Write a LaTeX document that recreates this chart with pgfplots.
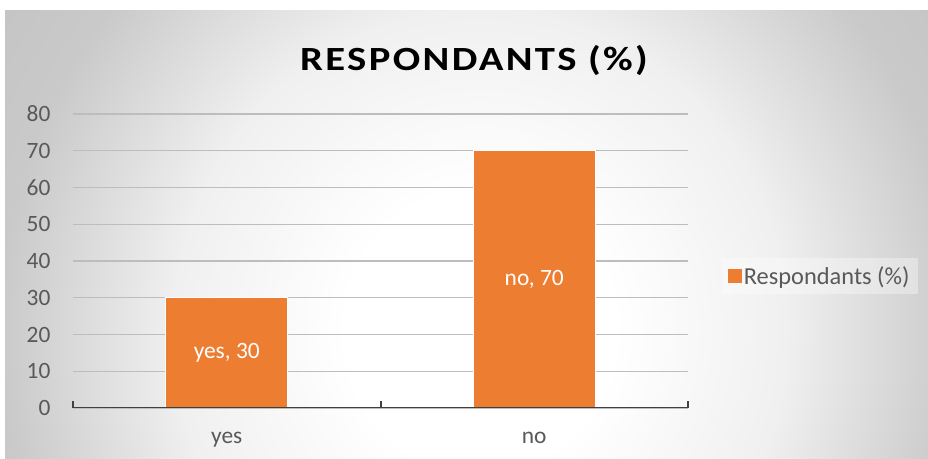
\documentclass[border=0pt]{standalone}
\usepackage{pgfplots}
\usepackage{pgfplotstable}
\pgfplotsset{compat=1.18}
\usepackage{fontspec}
\setmainfont{Carlito}
\newfontfamily\titlefont[FakeStretch=1.2, LetterSpace=7]{Carlito}

\definecolor{barorange}{HTML}{ED7D31}
\definecolor{labelgray}{HTML}{595959}
\definecolor{axisdark}{HTML}{404040}
\definecolor{gridgray}{HTML}{BDBDBD}

% soft radial backdrop of the chart area
\pgfdeclareradialshading{chartbg}{\pgfpoint{0bp}{0bp}}{%
  color(0bp)=(white); color(14bp)=(white); color(32bp)=(white!94!black);
  color(50bp)=(white!79!black); color(75bp)=(white!74!black)}

\pgfplotstableread[col sep=semicolon]{
x;y;label
0;30;yes, 30
1;70;no, 70
}\respdata

\newcommand\chartfont{\fontsize{23.5}{27}\selectfont}

\begin{document}
\begin{tikzpicture}[x=1bp,y=1bp]
\useasboundingbox (0,0) rectangle (928,459);
\fill[white] (0,0) rectangle (928,459);
\begin{scope}
  \clip (5,0) rectangle (928,448);
  \pgftransformshift{\pgfpoint{480bp}{129bp}}
  \pgftransformxscale{9.6}
  \pgftransformyscale{10}
  \pgflowlevelsynccm
  \pgfuseshading{chartbg}
\end{scope}

\begin{axis}[
  at={(73bp,51bp)}, anchor=south west,
  scale only axis, width=615bp, height=294bp,
  xmin=-0.5, xmax=1.5, ymin=0, ymax=80,
  ytick={0,10,...,80},
  xtick={0,1}, xticklabels={yes,no},
  extra x ticks={-0.5,0.5,1.5}, extra x tick labels={},
  extra x tick style={major tick length=7bp,
    tick style={draw=axisdark, line width=2bp}},
  major tick length=0pt,
  axis x line*=bottom, axis y line*=left,
  x axis line style={-, draw=none},
  y axis line style={draw=none},
  ymajorgrids, grid style={draw=gridgray, line width=1.2bp},
  /pgf/number format/assume math mode=true,
  ticklabel style={font=\chartfont, text=labelgray},
  yticklabel style={xshift=-19bp},
  xticklabel style={yshift=-21bp},
  title={\titlefont\bfseries RESPONDANTS (\%)},
  title style={at={(0.652,1.160)}, anchor=center, font=\fontsize{34}{38}\selectfont, text=black},
  legend style={at={(1.2146,0.449)}, anchor=center, draw=none,
    fill=white, fill opacity=0.35, text opacity=1,
    font=\fontsize{24.5}{28}\selectfont, text=labelgray,
    inner xsep=6bp, inner ysep=6bp},
  legend image code/.code={\fill[barorange, fill opacity=1] (0bp,-6bp) rectangle (12bp,6bp);},
]
\addplot[ybar, bar width=122bp, fill=barorange, draw=white, line width=1.4bp]
  table[x=x, y=y] {\respdata};
\addlegendentry{Respondants (\%)}
% data labels, centred inside each bar
\addplot[draw=none, mark=none, forget plot,
  point meta=explicit symbolic, nodes near coords,
  every node near coord/.append style={anchor=center,
    text=white, font=\chartfont}]
  table[x=x, y expr=\thisrow{y}/2, meta=label] {\respdata};
\draw[axisdark, line width=2.6bp] (axis cs:-0.5,0) -- (axis cs:1.5,0);
\end{axis}
\end{tikzpicture}
\end{document}
